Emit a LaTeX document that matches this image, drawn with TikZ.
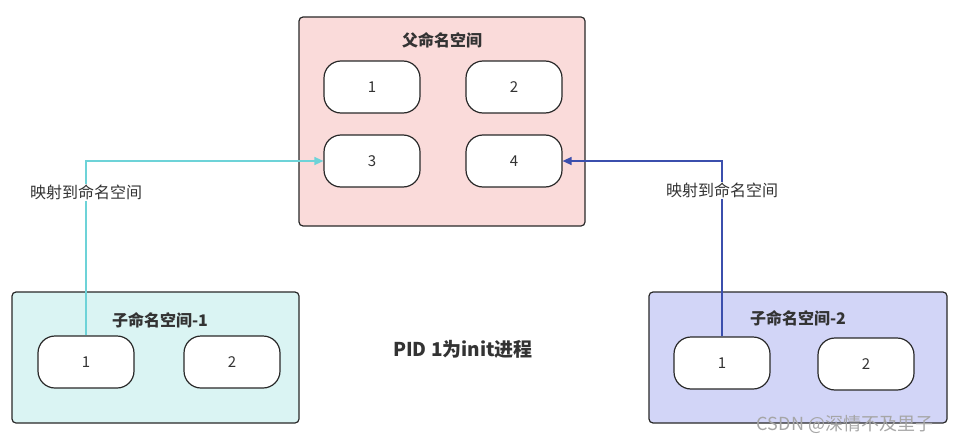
\documentclass[tikz,border=0pt]{standalone}
\usepackage{fontspec}
\setmainfont{Noto Sans CJK SC}
\usetikzlibrary{arrows.meta}
\definecolor{parentfill}{RGB}{250,219,218}
\definecolor{childafill}{RGB}{218,244,243}
\definecolor{childbfill}{RGB}{210,213,247}
\definecolor{linka}{RGB}{109,211,216}
\definecolor{linkb}{RGB}{59,79,173}
\definecolor{edge}{RGB}{40,40,40}
\definecolor{txt}{RGB}{51,51,51}
\tikzset{
  nsbox/.style={draw=edge,line width=1.2pt,rounded corners=4pt},
  pill/.style={draw=edge,fill=white,line width=1.2pt,rounded corners=17pt,
    minimum width=96pt,minimum height=52pt,inner sep=0pt,
    text=txt,font=\fontsize{15}{17}\selectfont},
  nstitle/.style={text=txt,font=\fontsize{16}{18}\selectfont\bfseries},
  maplink/.style={line width=1.4pt,-{Triangle[length=9pt,width=8pt]}},
  maplabel/.style={fill=white,text=txt,inner sep=1pt,font=\fontsize{16}{18}\selectfont}
}
\begin{document}
\begin{tikzpicture}[x=1pt,y=-1pt]
            \useasboundingbox (0,0) rectangle (955,444);
            % parent namespace
            \draw[nsbox,fill=parentfill] (299,17) rectangle (585,226);
            \node[nstitle] (ptitle) at (442,40) {父命名空间};
            \node[pill] (p1) at (372,87) {1};
            \node[pill] (p2) at (514,87) {2};
            \node[pill] (p3) at (372,161) {3};
            \node[pill] (p4) at (514,161) {4};
            % child namespaces
            \draw[nsbox,fill=childafill] (12,292) rectangle (299,423);
            \node[nstitle] (atitle) at (160,320) {子命名空间-1};
            \node[pill] (a1) at (86,362) {1};
            \node[pill] (a2) at (232,362) {2};
            \draw[nsbox,fill=childbfill] (649,292) rectangle (947,423);
            \node[nstitle] (btitle) at (798,318) {子命名空间-2};
            \node[pill] (b1) at (722,363) {1};
            \node[pill] (b2) at (866,364) {2};
            % mappings
            \draw[maplink,linka] (a1.north) |- node[maplabel,pos=0.41]{映射到命名空间} (p3.west);
            \draw[maplink,linkb] (b1.north) |- node[maplabel,pos=0.415]{映射到命名空间} (p4.east);
            \node[text=txt,font=\fontsize{19}{21}\selectfont\bfseries] (pid) at (463,349) {PID 1为init进程};
            \node[text=black!35,font=\fontsize{18}{20}\selectfont] (mark) at (845,424) {CSDN @深情不及里子};
        \end{tikzpicture}
\end{document}
